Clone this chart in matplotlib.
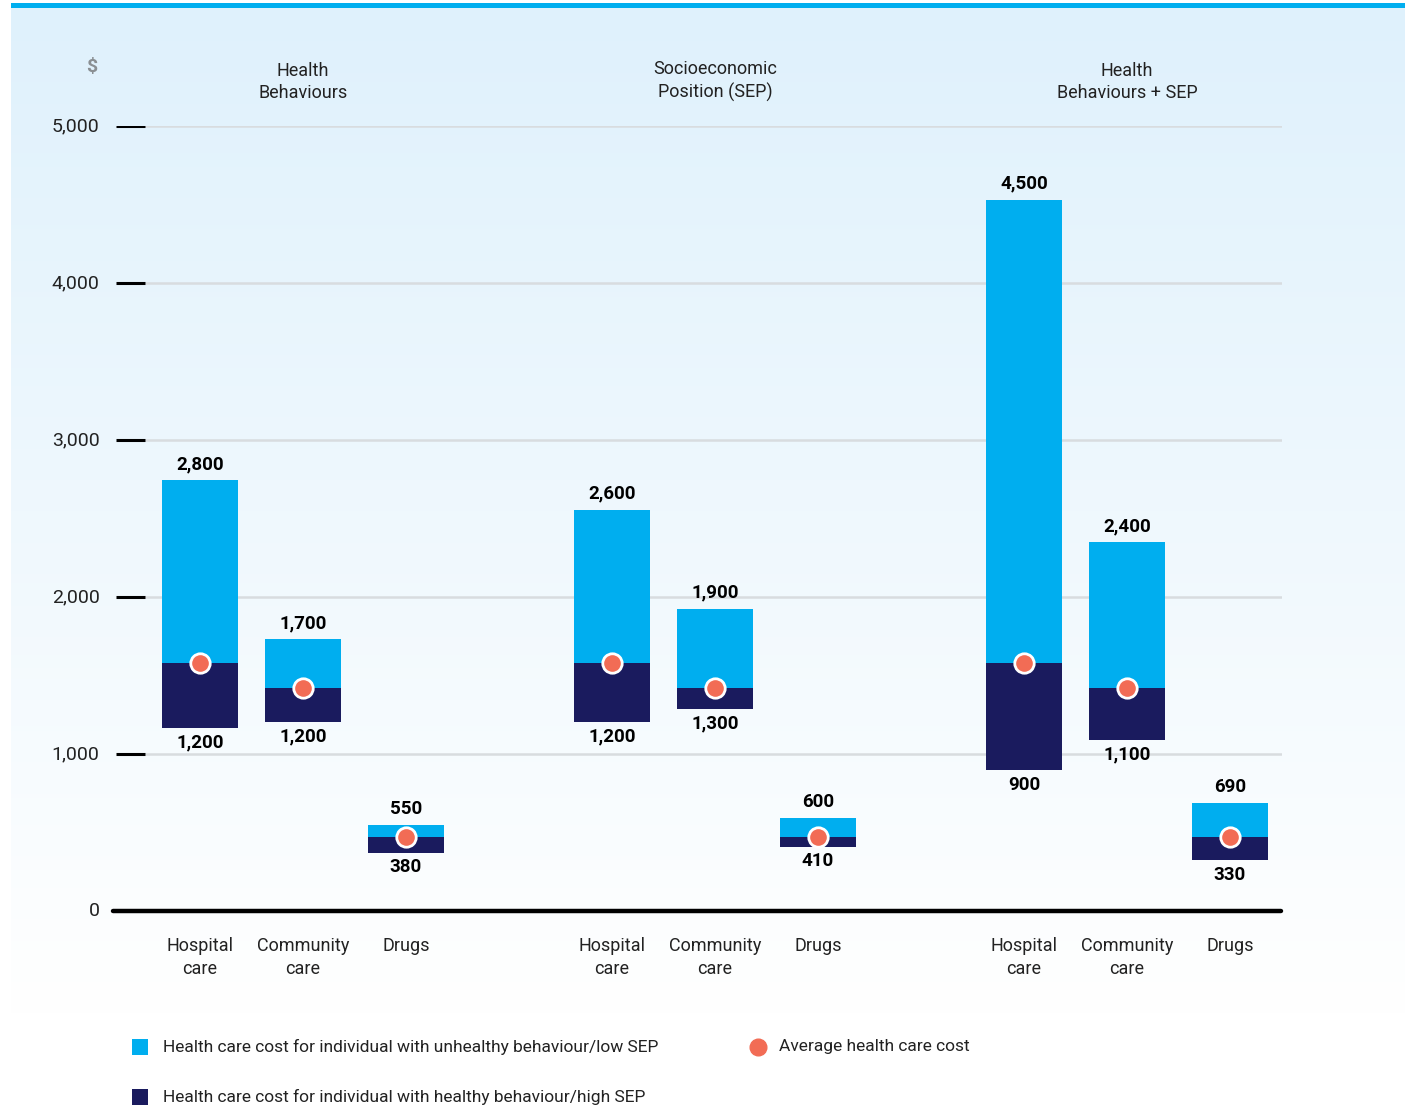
import numpy as np
import matplotlib
matplotlib.use("Agg")
import matplotlib.pyplot as plt
from matplotlib.patches import Rectangle

plt.rcParams['font.family'] = ['Roboto', 'DejaVu Sans']

# DATA
groups = ["Health\nBehaviours", "Socioeconomic\nPosition (SEP)", "Health\nBehaviours + SEP"]
categories = ["Hospital\ncare", "Community\ncare", "Drugs"]
# cost for individual with unhealthy behaviour / low SEP (top of bar)
high = [2745, 1730, 548, 2555, 1925, 592, 4530, 2350, 688]
high_labels = ["2,800", "1,700", "550", "2,600", "1,900", "600", "4,500", "2,400", "690"]
# cost for individual with healthy behaviour / high SEP (bottom of bar)
low = [1166, 1204, 370, 1204, 1287, 408, 898, 1090, 325]
low_labels = ["1,200", "1,200", "380", "1,200", "1,300", "410", "900", "1,100", "330"]
# average health care cost
avg = [1580, 1420, 470, 1580, 1420, 470, 1580, 1420, 470]
yticks = [0, 1000, 2000, 3000, 4000, 5000]

LIGHT = "#00aeef"
DARK = "#1a1b5e"
DOT = "#f26c55"

W, H = 1408, 1110
fig = plt.figure(figsize=(W / 100, H / 100), dpi=100)

# background panel with gradient
bg = fig.add_axes([0, 0, 1, 1], zorder=0)
bg.set_xlim(0, W)
bg.set_ylim(H, 0)
bg.axis("off")
top_col = np.array([0xdf, 0xf1, 0xfc]) / 255
grad = np.linspace(0, 1, 256)[:, None]
img = top_col[None, None, :] * (1 - grad[..., None]) + np.ones(3)[None, None, :] * grad[..., None]
img = np.repeat(img, 2, axis=1)
bg.imshow(img, extent=[11, 1405, 1015, 8], aspect="auto", interpolation="bilinear")
bg.add_patch(Rectangle((11, 3), 1394, 5, color=LIGHT, lw=0))

# main axes
x0, x1 = 112, 1282
ytop, ybot = 126, 911
ax = fig.add_axes([x0 / W, (H - ybot) / H, (x1 - x0) / W, (ybot - ytop) / H], zorder=1)
ax.patch.set_alpha(0)
xmin, xmax = -0.854, 10.505
ax.set_xlim(xmin, xmax)
ax.set_ylim(0, 5000)
for s in ax.spines.values():
    s.set_visible(False)
ax.set_xticks([])
ax.set_yticks([])

pos = [g * 4 + c for g in range(3) for c in range(3)]
grid_start = -0.534
for v in yticks[1:]:
    ax.plot([grid_start, xmax], [v, v], color="#d8dcdf", lw=1.8, zorder=1, solid_capstyle="butt")
    ax.plot([-0.816, grid_start], [v, v], color="black", lw=2.2, zorder=2, solid_capstyle="butt")
for v in yticks:
    ax.text(-0.975, v, f"{v:,}", ha="right", va="center", fontsize=14, color="#222222")
ax.plot([xmin + 0.01, xmax - 0.01], [0, 0], color="black", lw=3.2, solid_capstyle="round",
        zorder=3, clip_on=False)

bw = 0.73
for i, p in enumerate(pos):
    ax.bar(p, avg[i] - low[i], bottom=low[i], width=bw, color=DARK, zorder=4)
    ax.bar(p, high[i] - avg[i], bottom=avg[i], width=bw, color=LIGHT, zorder=4)
    ax.plot(p, avg[i], "o", ms=14, mfc=DOT, mec="white", mew=2, zorder=5)
    ax.annotate(high_labels[i], (p, high[i]), xytext=(0, 5), textcoords="offset points",
                ha="center", va="bottom", fontsize=13.5, fontweight="bold")
    ax.annotate(low_labels[i], (p, low[i]), xytext=(0, -4), textcoords="offset points",
                ha="center", va="top", fontsize=13.5, fontweight="bold")
    ax.annotate(categories[i % 3], (p, 0), xytext=(0, -19), textcoords="offset points",
                ha="center", va="top", fontsize=13, color="#222222", linespacing=1.33)

for g in range(3):
    ax.annotate(groups[g], (g * 4 + 1, 5000), xytext=(0, 17), textcoords="offset points",
                ha="center", va="bottom", fontsize=13, color="#222222", linespacing=1.33)

fig.text(92 / W, 1 - 67 / H, "$", ha="center", va="center", fontsize=14,
         fontweight="bold", color="#8a8f93")

# legend
bg.add_patch(Rectangle((132, 1039), 16, 16, color=LIGHT, lw=0))
bg.add_patch(Rectangle((132, 1089), 16, 16, color=DARK, lw=0))
bg.plot(758, 1047, "o", ms=12, color=DOT)
bg.text(163, 1047, "Health care cost for individual with unhealthy behaviour/low SEP",
        ha="left", va="center", fontsize=12.5, color="#222222")
bg.text(163, 1097, "Health care cost for individual with healthy behaviour/high SEP",
        ha="left", va="center", fontsize=12.5, color="#222222")
bg.text(779, 1047, "Average health care cost", ha="left", va="center", fontsize=12.5,
        color="#222222")

fig.savefig("out.png", dpi=100)
